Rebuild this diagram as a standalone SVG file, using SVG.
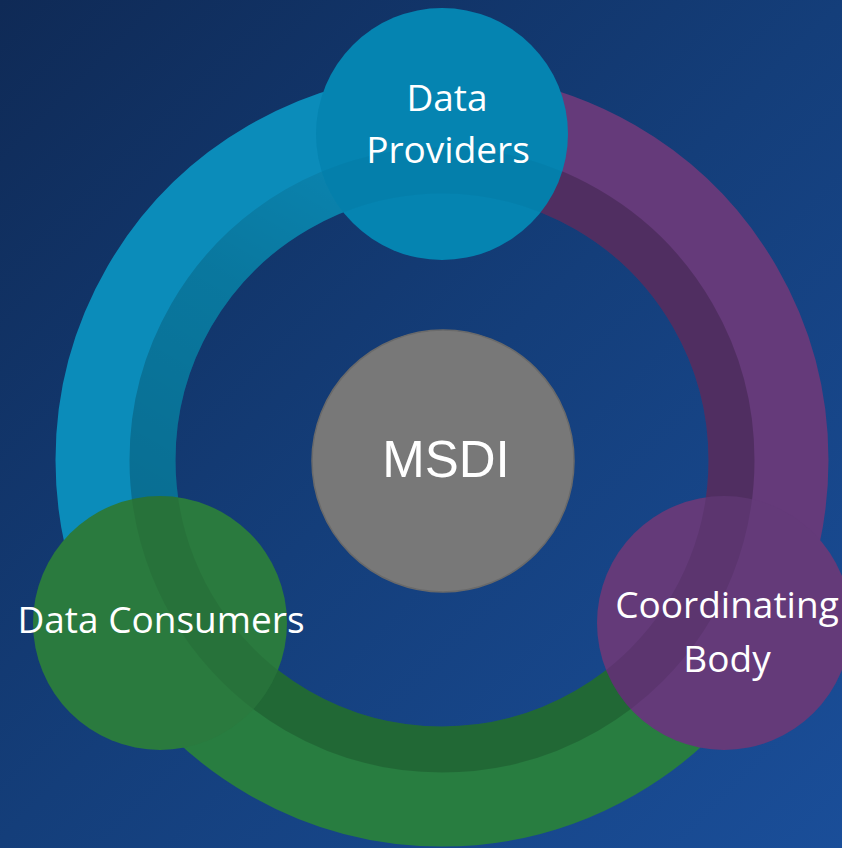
<svg xmlns="http://www.w3.org/2000/svg" width="842" height="848" viewBox="0 0 842 848">
  <defs>
    <linearGradient id="bg" x1="0" y1="0" x2="842" y2="848" gradientUnits="userSpaceOnUse">
      <stop offset="0" stop-color="#0f2a56"/>
      <stop offset="0.5" stop-color="#143e7a"/>
      <stop offset="1" stop-color="#1a4e99"/>
    </linearGradient>
    <!-- inner shading of the blue arc fades towards the top -->
    <linearGradient id="blueShade" x1="180" y1="560" x2="400" y2="170" gradientUnits="userSpaceOnUse">
      <stop offset="0" stop-color="#000" stop-opacity="0.22"/>
      <stop offset="0.6" stop-color="#000" stop-opacity="0.15"/>
      <stop offset="1" stop-color="#000" stop-opacity="0.05"/>
    </linearGradient>
    <clipPath id="clipProviders"><circle cx="442" cy="134" r="126"/></clipPath>
    <clipPath id="clipCoordinating"><circle cx="724" cy="623" r="127"/></clipPath>
    <clipPath id="clipConsumers"><circle cx="160" cy="623" r="127"/></clipPath>
  </defs>
  <style>
    .band { fill: none; stroke-width: 120; }
    .shade { fill: none; stroke-width: 46; }
    .label { font-family: "Open Sans", "Noto Sans", "Liberation Sans", sans-serif; font-size: 37px; fill: #ffffff; text-anchor: middle; }
    .title { font-family: "Liberation Sans", Arial, sans-serif; font-size: 51px; fill: #ffffff; text-anchor: middle; }
  </style>

  <rect width="842" height="848" fill="url(#bg)"/>

  <!-- ring segments linking the three roles (centre 442,460; radii 266.5-386.5) -->
  <g id="connectors">
    <g id="arc-consumers-providers">
      <path class="band" stroke="#0b8cba" d="M 159.24 623.25 A 326.5 326.5 0 0 1 442 133.5"/>
      <path class="shade" stroke="url(#blueShade)" d="M 191.28 604.75 A 289.5 289.5 0 0 1 442 170.5"/>
    </g>
    <g id="arc-providers-coordinating">
      <path class="band" stroke="#653a7a" d="M 442 133.5 A 326.5 326.5 0 0 1 724.76 623.25"/>
      <path class="shade" stroke="#000" stroke-opacity="0.2" d="M 442 170.5 A 289.5 289.5 0 0 1 692.72 604.75"/>
    </g>
    <g id="arc-coordinating-consumers">
      <path class="band" stroke="#287d40" d="M 724.76 623.25 A 326.5 326.5 0 0 1 159.24 623.25"/>
      <path class="shade" stroke="#000" stroke-opacity="0.16" d="M 692.72 604.75 A 289.5 289.5 0 0 1 191.28 604.75"/>
    </g>
  </g>

  <g id="node-providers">
    <circle cx="442" cy="134" r="126" fill="#0584b1"/>
    <circle clip-path="url(#clipProviders)" class="shade" cx="442" cy="460" r="289.5" stroke="#000" stroke-opacity="0.03"/>
    <text class="label" x="447" y="111">Data</text>
    <text class="label" x="448" y="163">Providers</text>
  </g>

  <g id="node-coordinating">
    <circle cx="724" cy="623" r="127" fill="#643a79"/>
    <circle clip-path="url(#clipCoordinating)" class="shade" cx="442" cy="460" r="289.5" stroke="#000" stroke-opacity="0.08"/>
    <text class="label" x="727" y="618">Coordinating</text>
    <text class="label" x="727" y="672">Body</text>
  </g>

  <g id="node-consumers">
    <circle cx="160" cy="623" r="127" fill="#2a7a3e"/>
    <circle clip-path="url(#clipConsumers)" class="shade" cx="442" cy="460" r="289.5" stroke="#000" stroke-opacity="0.06"/>
    <text class="label" x="161" y="633">Data Consumers</text>
  </g>

  <g id="node-msdi">
    <circle cx="443" cy="461" r="131" fill="#787878" stroke="#6a6a6a" stroke-width="1.5"/>
    <text class="title" x="446" y="477">MSDI</text>
  </g>
</svg>
